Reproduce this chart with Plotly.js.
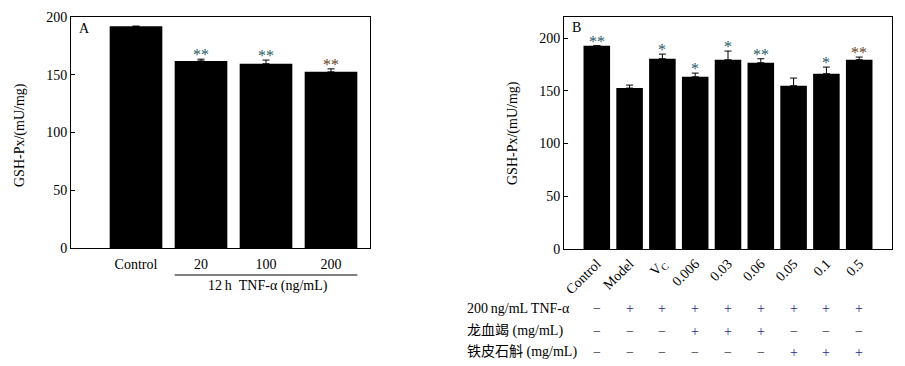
<!DOCTYPE html>
<html>
<head>
<meta charset="utf-8">
<script src="https://cdn.plot.ly/plotly-3.0.1.min.js"></script>
<style>html,body{margin:0;padding:0;background:#fff;}#chart{width:905px;height:366px;}</style>
</head>
<body>
<div id="chart"></div>
<script>
// ---- Data ----
const catsA = ["Control", "20", "100", "200"];
const valsA = [192, 162, 159.5, 152.5];
const errA = [0, 1.5, 3.2, 2.6];
const sigA = ["", "**", "**", "**"];
const sigColA = ["#1f5a66", "#1f5a66", "#1f5a66", "#6b4020"];

const catsB = ["Control", "Model", "V<sub>C</sub>", "0.006", "0.03", "0.06", "0.05", "0.1", "0.5"];
const valsB = [192.7, 152.6, 180.4, 163.3, 179.4, 176.6, 154.8, 166.2, 179.5];
const errB = [0, 2.8, 4.4, 3.5, 8.3, 3.8, 7.3, 6.3, 2.5];
const sigB = ["**", "", "*", "*", "*", "**", "", "*", "**"];
const sigColB = ["#1f5a66", "#1f5a66", "#1f5a66", "#1f5a66", "#1f5a66", "#1f5a66", "#1f5a66", "#1f5a66", "#6b4020"];

const rowLabels = ["200\u2009ng/mL TNF-\u03b1", "龙血竭 (mg/mL)", "铁皮石斛 (mg/mL)"];
const rowTNF = ["\u2212", "+", "+", "+", "+", "+", "+", "+", "+"];
const rowDragon = ["\u2212", "\u2212", "\u2212", "+", "+", "+", "\u2212", "\u2212", "\u2212"];
const rowDendro = ["\u2212", "\u2212", "\u2212", "\u2212", "\u2212", "\u2212", "+", "+", "+"];

const groupLabelA = "12\u2009h\u00a0\u00a0TNF-\u03b1 (ng/mL)";
const yTitle = "GSH-Px/(mU/mg)";

// ---- Layout helpers ----
const W = 905, H = 366;
const px = x => x / W;
const py = y => 1 - y / H;
const FONT = "Liberation Serif, Times New Roman, serif";
const CJK = "Liberation Serif, Noto Sans CJK SC, serif";
const FS = 14;
const barW = 0.81;

const idxA = catsA.map((_, i) => i);
const idxB = catsB.map((_, i) => i);

const traces = [
  {
    type: "bar", x: idxA, y: valsA, width: barW, xaxis: "x", yaxis: "y",
    marker: {color: "#000", line: {width: 0}},
    error_y: {type: "data", symmetric: false, array: errA, arrayminus: errA.map(() => 0),
      color: "#000", thickness: 1, width: 3.5},
    hoverinfo: "skip"
  },
  {
    type: "bar", x: idxB, y: valsB, width: barW, xaxis: "x2", yaxis: "y2",
    marker: {color: "#000", line: {width: 0}},
    error_y: {type: "data", symmetric: false, array: errB, arrayminus: errB.map(() => 0),
      color: "#000", thickness: 1, width: 3.5},
    hoverinfo: "skip"
  }
];

const annotations = [];
// significance marks
idxA.forEach(i => {
  if (sigA[i]) annotations.push({xref: "x", yref: "y", x: i, y: valsA[i] + errA[i],
    text: sigA[i], showarrow: false, yanchor: "bottom", yshift: -6,
    font: {family: FONT, size: 16, color: sigColA[i]}});
});
idxB.forEach(i => {
  if (sigB[i]) annotations.push({xref: "x2", yref: "y2", x: i, y: valsB[i] + errB[i],
    text: sigB[i], showarrow: false, yanchor: "bottom", yshift: -6,
    font: {family: FONT, size: 16, color: sigColB[i]}});
});
// panel letters
annotations.push({xref: "paper", yref: "paper", x: px(77), y: py(29), text: "A", showarrow: false,
  xanchor: "left", yanchor: "middle", font: {family: FONT, size: FS, color: "#000"}});
annotations.push({xref: "paper", yref: "paper", x: px(570), y: py(28), text: "B", showarrow: false,
  xanchor: "left", yanchor: "middle", font: {family: FONT, size: FS, color: "#000"}});
// y titles
annotations.push({xref: "paper", yref: "paper", x: px(20), y: py(135), text: yTitle, textangle: -90,
  showarrow: false, xanchor: "center", yanchor: "middle", font: {family: FONT, size: FS, color: "#000"}});
annotations.push({xref: "paper", yref: "paper", x: px(513), y: py(133), text: yTitle, textangle: -90,
  showarrow: false, xanchor: "center", yanchor: "middle", font: {family: FONT, size: FS, color: "#000"}});
// group label A
annotations.push({xref: "x", yref: "paper", x: 2.03, y: py(286), text: groupLabelA, showarrow: false,
  xanchor: "center", yanchor: "middle", font: {family: FONT, size: FS, color: "#000"}});
// table rows
const rows = [rowTNF, rowDragon, rowDendro];
const rowY = [308, 331, 352];
rows.forEach((row, r) => {
  annotations.push({xref: "paper", yref: "paper", x: px(465), y: py(rowY[r]), text: rowLabels[r],
    showarrow: false, xanchor: "left", yanchor: "middle", font: {family: CJK, size: FS, color: "#000"}});
  row.forEach((s, i) => {
    annotations.push({xref: "x2", yref: "paper", x: i, y: py(rowY[r]), text: s, showarrow: false,
      xanchor: "center", yanchor: "middle",
      font: {family: FONT, size: FS, color: s === "+" ? "#2a2a90" : "#333"}});
  });
});

const axisCommon = {showline: true, mirror: true, linecolor: "#000", linewidth: 1,
  showgrid: false, zeroline: false, fixedrange: true,
  tickfont: {family: FONT, size: FS, color: "#000"}};

const layout = {
  width: W, height: H,
  margin: {l: 0, r: 0, t: 0, b: 0},
  paper_bgcolor: "#fff", plot_bgcolor: "#fff",
  showlegend: false,
  xaxis: Object.assign({}, axisCommon, {domain: [px(71), px(370)], anchor: "y",
    range: [-1, 3.6], tickmode: "array", tickvals: idxA, ticktext: catsA, ticks: "", ticklabelstandoff: 3}),
  yaxis: Object.assign({}, axisCommon, {domain: [py(248), py(17)], anchor: "x",
    range: [0, 200], tickvals: [0, 50, 100, 150, 200], ticks: "inside", ticklen: 4, tickcolor: "#000"}),
  xaxis2: Object.assign({}, axisCommon, {domain: [px(564), px(892)], anchor: "y2",
    range: [-1, 9], tickmode: "array", tickvals: idxB, ticktext: catsB, ticks: "", tickangle: -45}),
  yaxis2: Object.assign({}, axisCommon, {domain: [py(249), py(17)], anchor: "x2",
    range: [0, 220], tickvals: [0, 50, 100, 150, 200], ticks: "inside", ticklen: 4, tickcolor: "#000"}),
  shapes: [
    {type: "line", xref: "x", yref: "paper", x0: 1 - barW / 2, x1: 3 + barW / 2,
      y0: py(275), y1: py(275), line: {color: "#000", width: 1}}
  ],
  annotations: annotations
};

Plotly.newPlot("chart", traces, layout, {displayModeBar: false, staticPlot: true});
</script>
</body>
</html>
